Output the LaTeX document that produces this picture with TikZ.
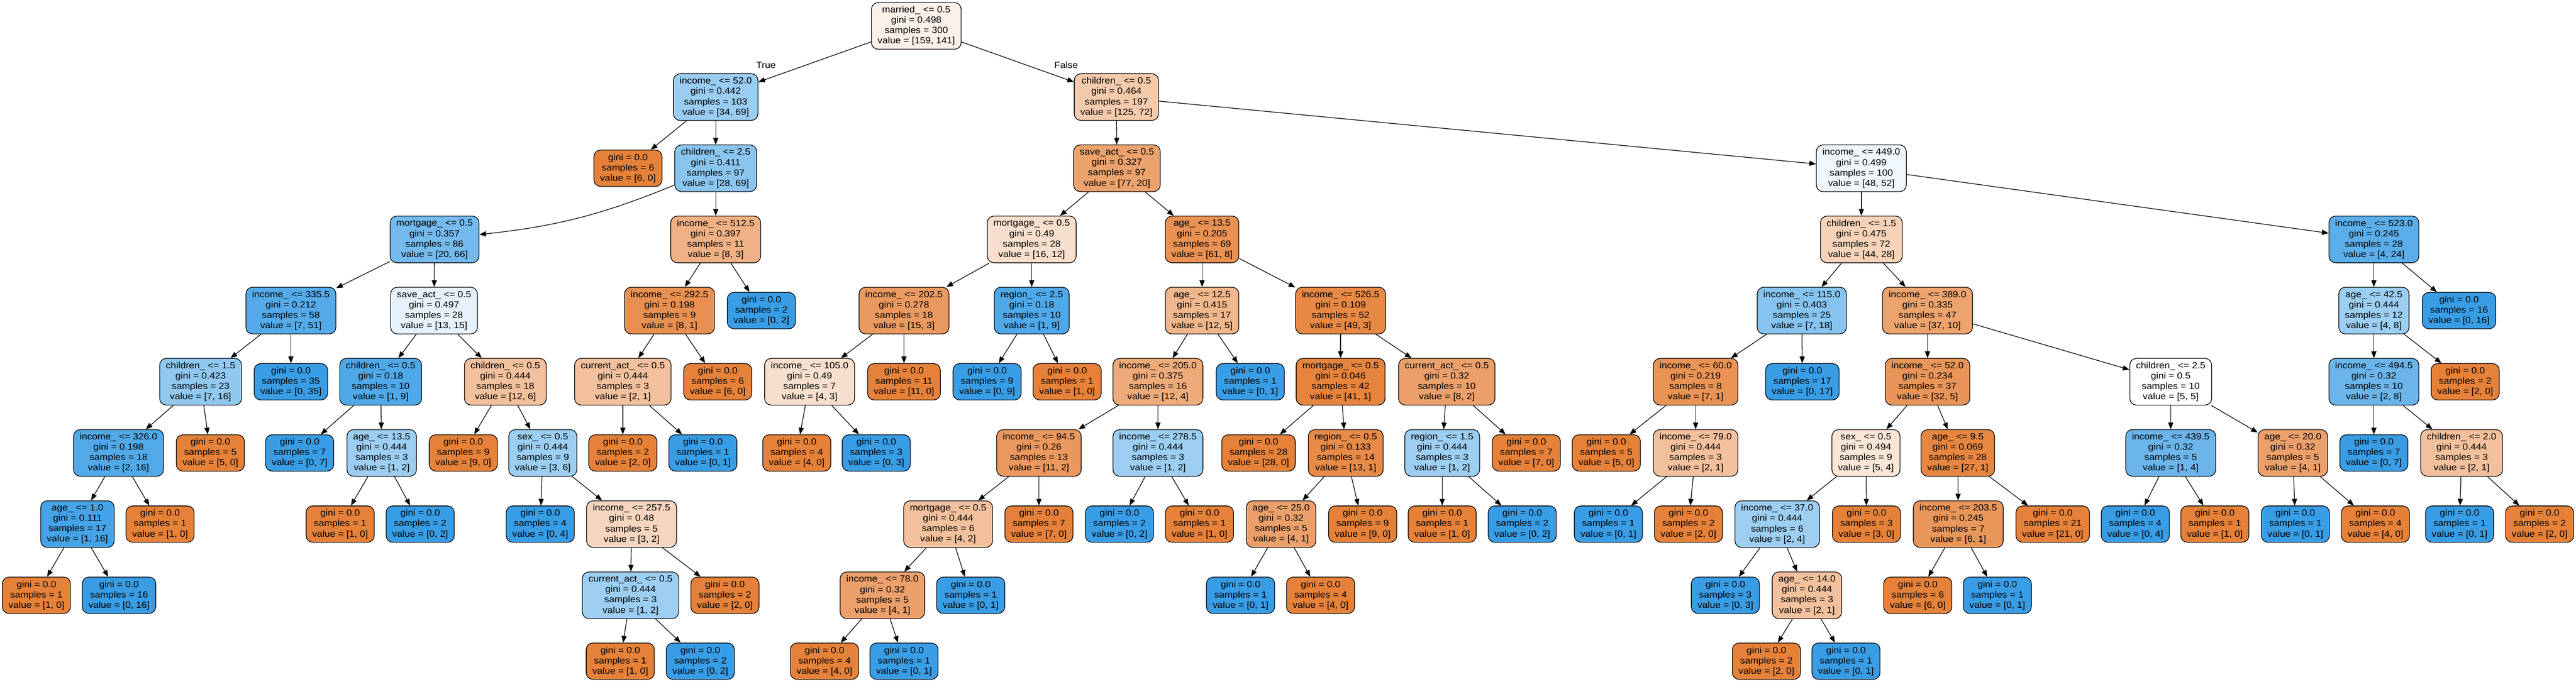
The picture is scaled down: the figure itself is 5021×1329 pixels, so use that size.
\documentclass[tikz,border=0pt]{standalone}
\usepackage{fontspec}
\setmainfont{Liberation Sans}[FakeStretch=1.08]
\usetikzlibrary{arrows.meta}
\definecolor{oc}{RGB}{229,129,57}
\definecolor{bc}{RGB}{57,157,229}
\newcommand{\tsplit}[4]{#1\\gini = #2\\samples = #3\\value = [#4]}
\newcommand{\tleaf}[2]{gini = 0.0\\samples = #1\\value = [#2]}
\tikzset{
  tbox/.style={draw=black, line width=1.3pt, rounded corners=13pt, align=center,
    inner xsep=12pt, inner ysep=0pt, font=\fontsize{17.5}{20.2}\selectfont},
  snode/.style={tbox, minimum height=91pt},
  lnode/.style={tbox, minimum height=71pt},
  ofill/.style={fill=oc!#1!white},
  bfill/.style={fill=bc!#1!white},
  link/.style={-{Triangle[length=13pt,width=10pt]}, line width=1.3pt, black},
  tflabel/.style={inner sep=0pt, font=\fontsize{17.5}{20.2}\selectfont}
}
\begin{document}
\begin{tikzpicture}[x=1pt,y=-1pt]
\fill[white] (0,0) rectangle (5021,1329);
\useasboundingbox (0,0) rectangle (5021,1329);
% rank 0
\node[snode, ofill=11] (R) at (1786,50.5) {\tsplit{married\_ <= 0.5}{0.498}{300}{159, 141}};
% rank 1
\node[snode, bfill=51] (A) at (1395,189.25) {\tsplit{income\_ <= 52.0}{0.442}{103}{34, 69}};
\node[snode, ofill=42] (B) at (2176,189.25) {\tsplit{children\_ <= 0.5}{0.464}{197}{125, 72}};
% rank 2
\node[lnode, ofill=100] (A1) at (1224,328) {\tleaf{6}{6, 0}};
\node[snode, bfill=59] (A2) at (1395,328) {\tsplit{children\_ <= 2.5}{0.411}{97}{28, 69}};
\node[snode, ofill=74] (B1) at (2177,328) {\tsplit{save\_act\_ <= 0.5}{0.327}{97}{77, 20}};
\node[snode, bfill=8] (B2) at (3628,328) {\tsplit{income\_ <= 449.0}{0.499}{100}{48, 52}};
% rank 3
\node[snode, bfill=70] (C1) at (847,466.75) {\tsplit{mortgage\_ <= 0.5}{0.357}{86}{20, 66}};
\node[snode, ofill=62] (C2) at (1395,466.75) {\tsplit{income\_ <= 512.5}{0.397}{11}{8, 3}};
\node[snode, ofill=25] (C3) at (2011,466.75) {\tsplit{mortgage\_ <= 0.5}{0.49}{28}{16, 12}};
\node[snode, ofill=87] (C4) at (2343,466.75) {\tsplit{age\_ <= 13.5}{0.205}{69}{61, 8}};
\node[snode, ofill=36] (C5) at (3628,466.75) {\tsplit{children\_ <= 1.5}{0.475}{72}{44, 28}};
\node[snode, bfill=83] (C6) at (4627,466.75) {\tsplit{income\_ <= 523.0}{0.245}{28}{4, 24}};
% rank 4
\node[snode, bfill=86] (D1) at (567,605.5) {\tsplit{income\_ <= 335.5}{0.212}{58}{7, 51}};
\node[snode, bfill=13] (D2) at (846,605.5) {\tsplit{save\_act\_ <= 0.5}{0.497}{28}{13, 15}};
\node[snode, ofill=88] (D3) at (1305,605.5) {\tsplit{income\_ <= 292.5}{0.198}{9}{8, 1}};
\node[lnode, bfill=100] (D4) at (1484,605.5) {\tleaf{2}{0, 2}};
\node[snode, ofill=80] (D5) at (1762,605.5) {\tsplit{income\_ <= 202.5}{0.278}{18}{15, 3}};
\node[snode, bfill=89] (D6) at (2011,605.5) {\tsplit{region\_ <= 2.5}{0.18}{10}{1, 9}};
\node[snode, ofill=58] (D7) at (2343,605.5) {\tsplit{age\_ <= 12.5}{0.415}{17}{12, 5}};
\node[snode, ofill=94] (D8) at (2613,605.5) {\tsplit{income\_ <= 526.5}{0.109}{52}{49, 3}};
\node[snode, bfill=61] (D9) at (3512,605.5) {\tsplit{income\_ <= 115.0}{0.403}{25}{7, 18}};
\node[snode, ofill=73] (D10) at (3757,605.5) {\tsplit{income\_ <= 389.0}{0.335}{47}{37, 10}};
\node[snode, bfill=50] (D11) at (4627,605.5) {\tsplit{age\_ <= 42.5}{0.444}{12}{4, 8}};
\node[lnode, bfill=100] (D12) at (4793,605.5) {\tleaf{16}{0, 16}};
% rank 5
\node[snode, bfill=56] (E1) at (391,744.25) {\tsplit{children\_ <= 1.5}{0.423}{23}{7, 16}};
\node[lnode, bfill=100] (E2) at (567,744.25) {\tleaf{35}{0, 35}};
\node[snode, bfill=89] (E3) at (742,744.25) {\tsplit{children\_ <= 0.5}{0.18}{10}{1, 9}};
\node[snode, ofill=50] (E4) at (985,744.25) {\tsplit{children\_ <= 0.5}{0.444}{18}{12, 6}};
\node[snode, ofill=50] (E5) at (1214,744.25) {\tsplit{current\_act\_ <= 0.5}{0.444}{3}{2, 1}};
\node[lnode, ofill=100] (E6) at (1399,744.25) {\tleaf{6}{6, 0}};
\node[snode, ofill=25] (E7) at (1578,744.25) {\tsplit{income\_ <= 105.0}{0.49}{7}{4, 3}};
\node[lnode, ofill=100] (E8) at (1762,744.25) {\tleaf{11}{11, 0}};
\node[lnode, bfill=100] (E9) at (1924,744.25) {\tleaf{9}{0, 9}};
\node[lnode, ofill=100] (E10) at (2080,744.25) {\tleaf{1}{1, 0}};
\node[snode, ofill=67] (E11) at (2257,744.25) {\tsplit{income\_ <= 205.0}{0.375}{16}{12, 4}};
\node[lnode, bfill=100] (E12) at (2437,744.25) {\tleaf{1}{0, 1}};
\node[snode, ofill=98] (E13) at (2613,744.25) {\tsplit{mortgage\_ <= 0.5}{0.046}{42}{41, 1}};
\node[snode, ofill=75] (E14) at (2820,744.25) {\tsplit{current\_act\_ <= 0.5}{0.32}{10}{8, 2}};
\node[snode, ofill=86] (E15) at (3305,744.25) {\tsplit{income\_ <= 60.0}{0.219}{8}{7, 1}};
\node[lnode, bfill=100] (E16) at (3513,744.25) {\tleaf{17}{0, 17}};
\node[snode, ofill=84] (E17) at (3757,744.25) {\tsplit{income\_ <= 52.0}{0.234}{37}{32, 5}};
\node[snode, fill=white] (E18) at (4231,744.25) {\tsplit{children\_ <= 2.5}{0.5}{10}{5, 5}};
\node[snode, bfill=75] (E19) at (4627,744.25) {\tsplit{income\_ <= 494.5}{0.32}{10}{2, 8}};
\node[lnode, ofill=100] (E20) at (4805,744.25) {\tleaf{2}{2, 0}};
% rank 6
\node[snode, bfill=88] (F1) at (231,883) {\tsplit{income\_ <= 326.0}{0.198}{18}{2, 16}};
\node[lnode, ofill=100] (F2) at (410,883) {\tleaf{5}{5, 0}};
\node[lnode, bfill=100] (F3) at (584,883) {\tleaf{7}{0, 7}};
\node[snode, bfill=50] (F4) at (744,883) {\tsplit{age\_ <= 13.5}{0.444}{3}{1, 2}};
\node[lnode, ofill=100] (F5) at (903,883) {\tleaf{9}{9, 0}};
\node[snode, bfill=50] (F6) at (1058,883) {\tsplit{sex\_ <= 0.5}{0.444}{9}{3, 6}};
\node[lnode, ofill=100] (F7) at (1214,883) {\tleaf{2}{2, 0}};
\node[lnode, bfill=100] (F8) at (1370,883) {\tleaf{1}{0, 1}};
\node[lnode, ofill=100] (F9) at (1553,883) {\tleaf{4}{4, 0}};
\node[lnode, bfill=100] (F10) at (1708,883) {\tleaf{3}{0, 3}};
\node[snode, ofill=82] (F11) at (2025,883) {\tsplit{income\_ <= 94.5}{0.26}{13}{11, 2}};
\node[snode, bfill=50] (F12) at (2257,883) {\tsplit{income\_ <= 278.5}{0.444}{3}{1, 2}};
\node[lnode, ofill=100] (F13) at (2453,883) {\tleaf{28}{28, 0}};
\node[snode, ofill=92] (F14) at (2623,883) {\tsplit{region\_ <= 0.5}{0.133}{14}{13, 1}};
\node[snode, bfill=50] (F15) at (2811,883) {\tsplit{region\_ <= 1.5}{0.444}{3}{1, 2}};
\node[lnode, ofill=100] (F16) at (2975,883) {\tleaf{7}{7, 0}};
\node[lnode, ofill=100] (F17) at (3131,883) {\tleaf{5}{5, 0}};
\node[snode, ofill=50] (F18) at (3305,883) {\tsplit{income\_ <= 79.0}{0.444}{3}{2, 1}};
\node[snode, ofill=20] (F19) at (3637,883) {\tsplit{sex\_ <= 0.5}{0.494}{9}{5, 4}};
\node[snode, ofill=96] (F20) at (3816,883) {\tsplit{age\_ <= 9.5}{0.069}{28}{27, 1}};
\node[snode, bfill=75] (F21) at (4231,883) {\tsplit{income\_ <= 439.5}{0.32}{5}{1, 4}};
\node[snode, ofill=75] (F22) at (4469,883) {\tsplit{age\_ <= 20.0}{0.32}{5}{4, 1}};
\node[lnode, bfill=100] (F23) at (4627,883) {\tleaf{7}{0, 7}};
\node[snode, ofill=50] (F24) at (4798,883) {\tsplit{children\_ <= 2.0}{0.444}{3}{2, 1}};
% rank 7
\node[snode, bfill=94] (G1) at (151,1021.75) {\tsplit{age\_ <= 1.0}{0.111}{17}{1, 16}};
\node[lnode, ofill=100] (G2) at (312,1021.75) {\tleaf{1}{1, 0}};
\node[lnode, ofill=100] (G3) at (663,1021.75) {\tleaf{1}{1, 0}};
\node[lnode, bfill=100] (G4) at (819,1021.75) {\tleaf{2}{0, 2}};
\node[lnode, bfill=100] (G5) at (1053,1021.75) {\tleaf{4}{0, 4}};
\node[snode, ofill=33] (G6) at (1231,1021.75) {\tsplit{income\_ <= 257.5}{0.48}{5}{3, 2}};
\node[snode, ofill=50] (G7) at (1848,1021.75) {\tsplit{mortgage\_ <= 0.5}{0.444}{6}{4, 2}};
\node[lnode, ofill=100] (G8) at (2025,1021.75) {\tleaf{7}{7, 0}};
\node[lnode, bfill=100] (G9) at (2182,1021.75) {\tleaf{2}{0, 2}};
\node[lnode, ofill=100] (G10) at (2338,1021.75) {\tleaf{1}{1, 0}};
\node[snode, ofill=75] (G11) at (2497,1021.75) {\tsplit{age\_ <= 25.0}{0.32}{5}{4, 1}};
\node[lnode, ofill=100] (G12) at (2656,1021.75) {\tleaf{9}{9, 0}};
\node[lnode, ofill=100] (G13) at (2811,1021.75) {\tleaf{1}{1, 0}};
\node[lnode, bfill=100] (G14) at (2967,1021.75) {\tleaf{2}{0, 2}};
\node[lnode, bfill=100] (G15) at (3135,1021.75) {\tleaf{1}{0, 1}};
\node[lnode, ofill=100] (G16) at (3291,1021.75) {\tleaf{2}{2, 0}};
\node[snode, bfill=50] (G17) at (3464,1021.75) {\tsplit{income\_ <= 37.0}{0.444}{6}{2, 4}};
\node[lnode, ofill=100] (G18) at (3638,1021.75) {\tleaf{3}{3, 0}};
\node[snode, ofill=83] (G19) at (3817,1021.75) {\tsplit{income\_ <= 203.5}{0.245}{7}{6, 1}};
\node[lnode, ofill=100] (G20) at (4001,1021.75) {\tleaf{21}{21, 0}};
\node[lnode, bfill=100] (G21) at (4162,1021.75) {\tleaf{4}{0, 4}};
\node[lnode, ofill=100] (G22) at (4317,1021.75) {\tleaf{1}{1, 0}};
\node[lnode, bfill=100] (G23) at (4474,1021.75) {\tleaf{1}{0, 1}};
\node[lnode, ofill=100] (G24) at (4630,1021.75) {\tleaf{4}{4, 0}};
\node[lnode, bfill=100] (G25) at (4794,1021.75) {\tleaf{1}{0, 1}};
\node[lnode, ofill=100] (G26) at (4950,1021.75) {\tleaf{2}{2, 0}};
% rank 8
\node[lnode, ofill=100] (H1) at (71,1160.5) {\tleaf{1}{1, 0}};
\node[lnode, bfill=100] (H2) at (232,1160.5) {\tleaf{16}{0, 16}};
\node[snode, bfill=50] (H3) at (1229,1160.5) {\tsplit{current\_act\_ <= 0.5}{0.444}{3}{1, 2}};
\node[lnode, ofill=100] (H4) at (1413,1160.5) {\tleaf{2}{2, 0}};
\node[snode, ofill=75] (H5) at (1720,1160.5) {\tsplit{income\_ <= 78.0}{0.32}{5}{4, 1}};
\node[lnode, bfill=100] (H6) at (1892,1160.5) {\tleaf{1}{0, 1}};
\node[lnode, bfill=100] (H7) at (2418,1160.5) {\tleaf{1}{0, 1}};
\node[lnode, ofill=100] (H8) at (2574,1160.5) {\tleaf{4}{4, 0}};
\node[lnode, bfill=100] (H9) at (3363,1160.5) {\tleaf{3}{0, 3}};
\node[snode, ofill=50] (H10) at (3522,1160.5) {\tsplit{age\_ <= 14.0}{0.444}{3}{2, 1}};
\node[lnode, ofill=100] (H11) at (3738,1160.5) {\tleaf{6}{6, 0}};
\node[lnode, bfill=100] (H12) at (3893,1160.5) {\tleaf{1}{0, 1}};
% rank 9
\node[lnode, ofill=100] (I1) at (1209,1289) {\tleaf{1}{1, 0}};
\node[lnode, bfill=100] (I2) at (1365,1289) {\tleaf{2}{0, 2}};
\node[lnode, ofill=100] (I3) at (1607,1289) {\tleaf{4}{4, 0}};
\node[lnode, bfill=100] (I4) at (1762,1289) {\tleaf{1}{0, 1}};
\node[lnode, ofill=100] (I5) at (3443,1289) {\tleaf{2}{2, 0}};
\node[lnode, bfill=100] (I6) at (3598,1289) {\tleaf{1}{0, 1}};
% edges
\foreach \p/\c in {R/A, R/B, A/A1, A/A2, A2/C2, C1/D1, C1/D2, D1/E1, D1/E2,
  E1/F1, E1/F2, F1/G1, F1/G2, G1/H1, G1/H2, D2/E3, D2/E4, E3/F3, E3/F4,
  F4/G3, F4/G4, E4/F5, E4/F6, F6/G5, F6/G6, G6/H3, G6/H4, H3/I1, H3/I2,
  C2/D3, C2/D4, D3/E5, D3/E6, E5/F7, E5/F8, B/B1, B/B2, B1/C3, B1/C4,
  C3/D5, C3/D6, D5/E7, D5/E8, E7/F9, E7/F10, D6/E9, D6/E10, C4/D7, C4/D8,
  D7/E11, D7/E12, E11/F11, E11/F12, F11/G7, F11/G8, G7/H5, G7/H6, H5/I3, H5/I4,
  F12/G9, F12/G10, D8/E13, D8/E14, E13/F13, E13/F14, F14/G11, F14/G12,
  G11/H7, G11/H8, E14/F15, E14/F16, F15/G13, F15/G14, B2/C5, B2/C6,
  C5/D9, C5/D10, D9/E15, D9/E16, E15/F17, E15/F18, F18/G15, F18/G16,
  D10/E17, D10/E18, E17/F19, E17/F20, F19/G17, F19/G18, G17/H9, G17/H10,
  H10/I5, H10/I6, F20/G19, F20/G20, G19/H11, G19/H12, E18/F21, E18/F22,
  F21/G21, F21/G22, F22/G23, F22/G24, C6/D11, C6/D12, D11/E19, D11/E20,
  E19/F23, E19/F24, F24/G25, F24/G26}
  \draw[link] (\p) -- (\c);
\draw[link] (A2) to[bend left=8] (C1);
% edge labels
\node[tflabel] (lTrue) at (1493,127) {True};
\node[tflabel] (lFalse) at (2078,127) {False};
\end{tikzpicture}
\end{document}
